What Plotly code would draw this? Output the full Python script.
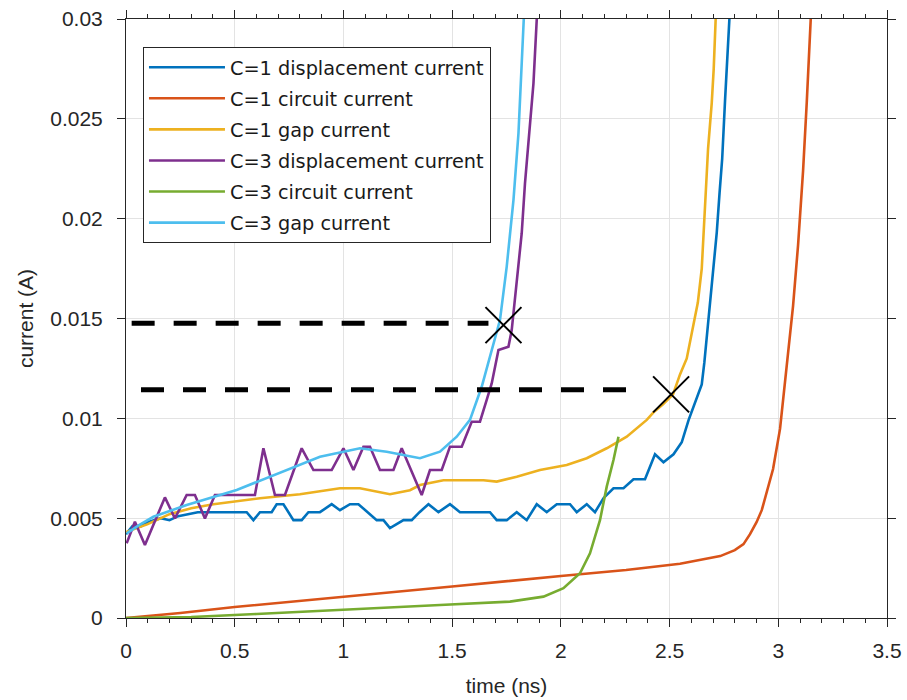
import plotly.graph_objects as go

# ---------------- data ----------------
c1_disp_t = [0.0, 0.03, 0.07, 0.10, 0.16, 0.20, 0.24, 0.28, 0.33, 0.386, 0.555, 0.586, 0.616, 0.670,
             0.693, 0.724, 0.770, 0.808, 0.839, 0.892, 0.920, 0.946, 0.984, 1.030, 1.069, 1.153, 1.184,
             1.214, 1.276, 1.314, 1.350, 1.391, 1.437, 1.490, 1.536, 1.674, 1.705, 1.751, 1.797, 1.843,
             1.889, 1.935, 1.981, 2.042, 2.073, 2.119, 2.157, 2.196, 2.242, 2.288, 2.334, 2.387, 2.433,
             2.472, 2.518, 2.556, 2.587, 2.600, 2.625, 2.648, 2.660, 2.675, 2.686, 2.700, 2.717, 2.730,
             2.742, 2.755, 2.765, 2.775, 2.785]
c1_disp_i = [0.0042, 0.0046, 0.0046, 0.0048, 0.0050, 0.0049, 0.0051, 0.0052, 0.0053, 0.0053, 0.0053,
             0.0049, 0.0053, 0.0053, 0.0057, 0.0057, 0.0049, 0.0049, 0.0053, 0.0053, 0.0055, 0.0057,
             0.0054, 0.0057, 0.0057, 0.0049, 0.0049, 0.0045, 0.0049, 0.0049, 0.0053, 0.0057, 0.0053,
             0.0057, 0.0053, 0.0053, 0.0049, 0.0049, 0.0053, 0.0049, 0.0057, 0.0053, 0.0057, 0.0057,
             0.0053, 0.0057, 0.0053, 0.0060, 0.0065, 0.0065, 0.00695, 0.00695, 0.0082, 0.0078, 0.0082,
             0.0088, 0.0099, 0.0103, 0.0110, 0.0117, 0.0128, 0.0145, 0.0159, 0.0172, 0.0193, 0.0213,
             0.0230, 0.0259, 0.0282, 0.0300, 0.0320]

c1_circ_t = [0.0, 0.25, 0.5, 1.0, 1.5, 2.0, 2.3, 2.548, 2.733, 2.80, 2.84, 2.870, 2.90, 2.924, 2.95,
             2.976, 3.008, 3.039, 3.068, 3.091, 3.114, 3.131, 3.149, 3.158]
c1_circ_i = [0.0, 0.00025, 0.00055, 0.00105, 0.00158, 0.00210, 0.00240, 0.00272, 0.00310, 0.00340,
             0.00370, 0.00420, 0.00480, 0.00540, 0.00640, 0.00746, 0.00947, 0.01257, 0.01563, 0.01868,
             0.02239, 0.02584, 0.02995, 0.0320]

c1_gap_t = [0.0, 0.1, 0.2, 0.3, 0.402, 0.616, 0.800, 0.984, 1.076, 1.214, 1.306, 1.352, 1.460, 1.644,
            1.705, 1.797, 1.904, 2.027, 2.119, 2.211, 2.303, 2.395, 2.426, 2.470, 2.516, 2.548, 2.579,
            2.608, 2.630, 2.648, 2.663, 2.677, 2.694, 2.703, 2.712, 2.720]
c1_gap_i = [0.0043, 0.0047, 0.0052, 0.0055, 0.0057, 0.0060, 0.0062, 0.0065, 0.0065, 0.0062, 0.0064,
            0.00666, 0.0069, 0.0069, 0.00683, 0.00708, 0.00741, 0.00766, 0.0080, 0.0085, 0.00908,
            0.00992, 0.0103, 0.0107, 0.0112, 0.0122, 0.0130, 0.0145, 0.0158, 0.0175, 0.0204, 0.0235,
            0.0258, 0.0275, 0.0300, 0.0320]

c3_disp_t = [0.003, 0.041, 0.087, 0.179, 0.225, 0.279, 0.317, 0.363, 0.409, 0.593, 0.632, 0.685, 0.731,
             0.808, 0.862, 0.946, 1.000, 1.046, 1.092, 1.122, 1.168, 1.230, 1.268, 1.360, 1.398, 1.452,
             1.490, 1.544, 1.590, 1.628, 1.659, 1.682, 1.713, 1.759, 1.774, 1.797, 1.820, 1.835, 1.858,
             1.874, 1.889, 1.895]
c3_disp_i = [0.00374, 0.00482, 0.00366, 0.00604, 0.00499, 0.00616, 0.00616, 0.00499, 0.00616, 0.00616,
             0.0085, 0.00616, 0.00616, 0.0085, 0.00741, 0.00741, 0.0085, 0.00741, 0.00858, 0.00858,
             0.00741, 0.00741, 0.0085, 0.00616, 0.00741, 0.00741, 0.00858, 0.00858, 0.00983, 0.00983,
             0.01092, 0.01175, 0.01342, 0.01359, 0.01442, 0.01676, 0.01927, 0.02177, 0.02478, 0.02678,
             0.02995, 0.0320]

c3_circ_t = [0.0, 0.3, 0.6, 1.0, 1.444, 1.766, 1.920, 2.012, 2.088, 2.134, 2.180, 2.211, 2.242, 2.265]
c3_circ_i = [0.0, 0.00005, 0.0002, 0.00043, 0.00065, 0.00082, 0.00107, 0.00149, 0.00224, 0.00324,
             0.0049, 0.00658, 0.00791, 0.00908]

c3_gap_t = [0.003, 0.06, 0.126, 0.279, 0.509, 0.739, 0.892, 1.076, 1.199, 1.352, 1.444, 1.521, 1.582,
            1.636, 1.682, 1.720, 1.751, 1.782, 1.805, 1.820, 1.831, 1.838]
c3_gap_i = [0.00424, 0.00465, 0.00507, 0.00566, 0.00641, 0.00741, 0.00808, 0.0085, 0.00833, 0.0080,
            0.00833, 0.00908, 0.00992, 0.01158, 0.01342, 0.01492, 0.0176, 0.02093, 0.02427, 0.02761,
            0.02995, 0.0320]

# dashed reference levels and crossing markers
ref1_t = [0.026, 1.667]
ref1_i = [0.01476, 0.01476]
ref2_t = [0.069, 2.333]
ref2_i = [0.01143, 0.01143]
cross_t = [1.736, 2.507]
cross_i = [0.01467, 0.0112]

names = ["C=1 displacement current", "C=1 circuit current", "C=1 gap current",
         "C=3 displacement current", "C=3 circuit current", "C=3 gap current"]
colors = ["#0072BD", "#D95319", "#EDB120", "#7E2F8E", "#77AC30", "#4DBEEE"]

x_ticks = [0, 0.5, 1, 1.5, 2, 2.5, 3, 3.5]
x_ticktext = ["0", "0.5", "1", "1.5", "2", "2.5", "3", "3.5"]
y_ticks = [0, 0.005, 0.01, 0.015, 0.02, 0.025, 0.03]
y_ticktext = ["0", "0.005", "0.01", "0.015", "0.02", "0.025", "0.03"]

series = [(c1_disp_t, c1_disp_i), (c1_circ_t, c1_circ_i), (c1_gap_t, c1_gap_i),
          (c3_disp_t, c3_disp_i), (c3_circ_t, c3_circ_i), (c3_gap_t, c3_gap_i)]

# ---------------- figure ----------------
fig = go.Figure()
for k, ((tt, ii), nm, col) in enumerate(zip(series, names, colors)):
    fig.add_trace(go.Scatter(x=tt, y=ii, mode="lines", name=nm, legendgroup=f"g{k}",
                             line=dict(color=col, width=2.6)))

for tt, ii in [(ref1_t, ref1_i), (ref2_t, ref2_i)]:
    fig.add_trace(go.Scatter(x=tt, y=ii, mode="lines", showlegend=False,
                             line=dict(color="black", width=5, dash="23px,19px")))

fig.add_trace(go.Scatter(x=cross_t, y=cross_i, mode="markers", showlegend=False,
                         marker=dict(symbol="x-thin", size=36, color="black",
                                     line=dict(color="black", width=2))))

# empty trace to anchor the mirrored top axis (minor ticks on top)
fig.add_trace(go.Scatter(x=[], y=[], xaxis="x2", showlegend=False, hoverinfo="skip"))

axis_col = "#262626"
tick_font = dict(family="Liberation Sans, Arial, sans-serif", size=21, color=axis_col)
minor_x = dict(dtick=0.1, ticks="outside", ticklen=4, tickcolor=axis_col, showgrid=False)

fig.update_layout(
    width=907, height=700,
    margin=dict(l=126, r=20, t=19, b=82),
    paper_bgcolor="white", plot_bgcolor="white",
    font=tick_font,
    showlegend=True,
    legend=dict(x=0.0223, y=0.953, xanchor="left", yanchor="top",
                bgcolor="white", bordercolor=axis_col, borderwidth=1,
                font=dict(family="DejaVu Sans, sans-serif", size=19.3, color="#1a1a1a"),
                tracegroupgap=3, itemwidth=76),
    xaxis=dict(range=[0, 3.5], tickvals=x_ticks, ticktext=x_ticktext, automargin=False,
               showline=True, linecolor=axis_col, linewidth=1, mirror=True,
               ticks="outside", ticklen=8, tickcolor=axis_col, tickwidth=1,
               showgrid=True, gridcolor="#e3e3e3", gridwidth=1, zeroline=False,
               minor=minor_x,
               title=dict(text="time (ns)", font=tick_font, standoff=17),
               ticklabelstandoff=6),
    xaxis2=dict(range=[0, 3.5], overlaying="x", side="top", tickvals=x_ticks, automargin=False,
                showticklabels=False, showline=False, showgrid=False, zeroline=False,
                ticks="outside", ticklen=8, tickcolor=axis_col, tickwidth=1,
                minor=minor_x),
    yaxis=dict(range=[0, 0.03], tickvals=y_ticks, ticktext=y_ticktext, automargin=False,
               showline=True, linecolor=axis_col, linewidth=1, mirror="ticks",
               ticks="outside", ticklen=8, tickcolor=axis_col, tickwidth=1,
               showgrid=True, gridcolor="#e3e3e3", gridwidth=1, zeroline=False,
               title=dict(text="current (A)", font=tick_font, standoff=10),
               ticklabelstandoff=10),
)

fig.write_html("out.html")
